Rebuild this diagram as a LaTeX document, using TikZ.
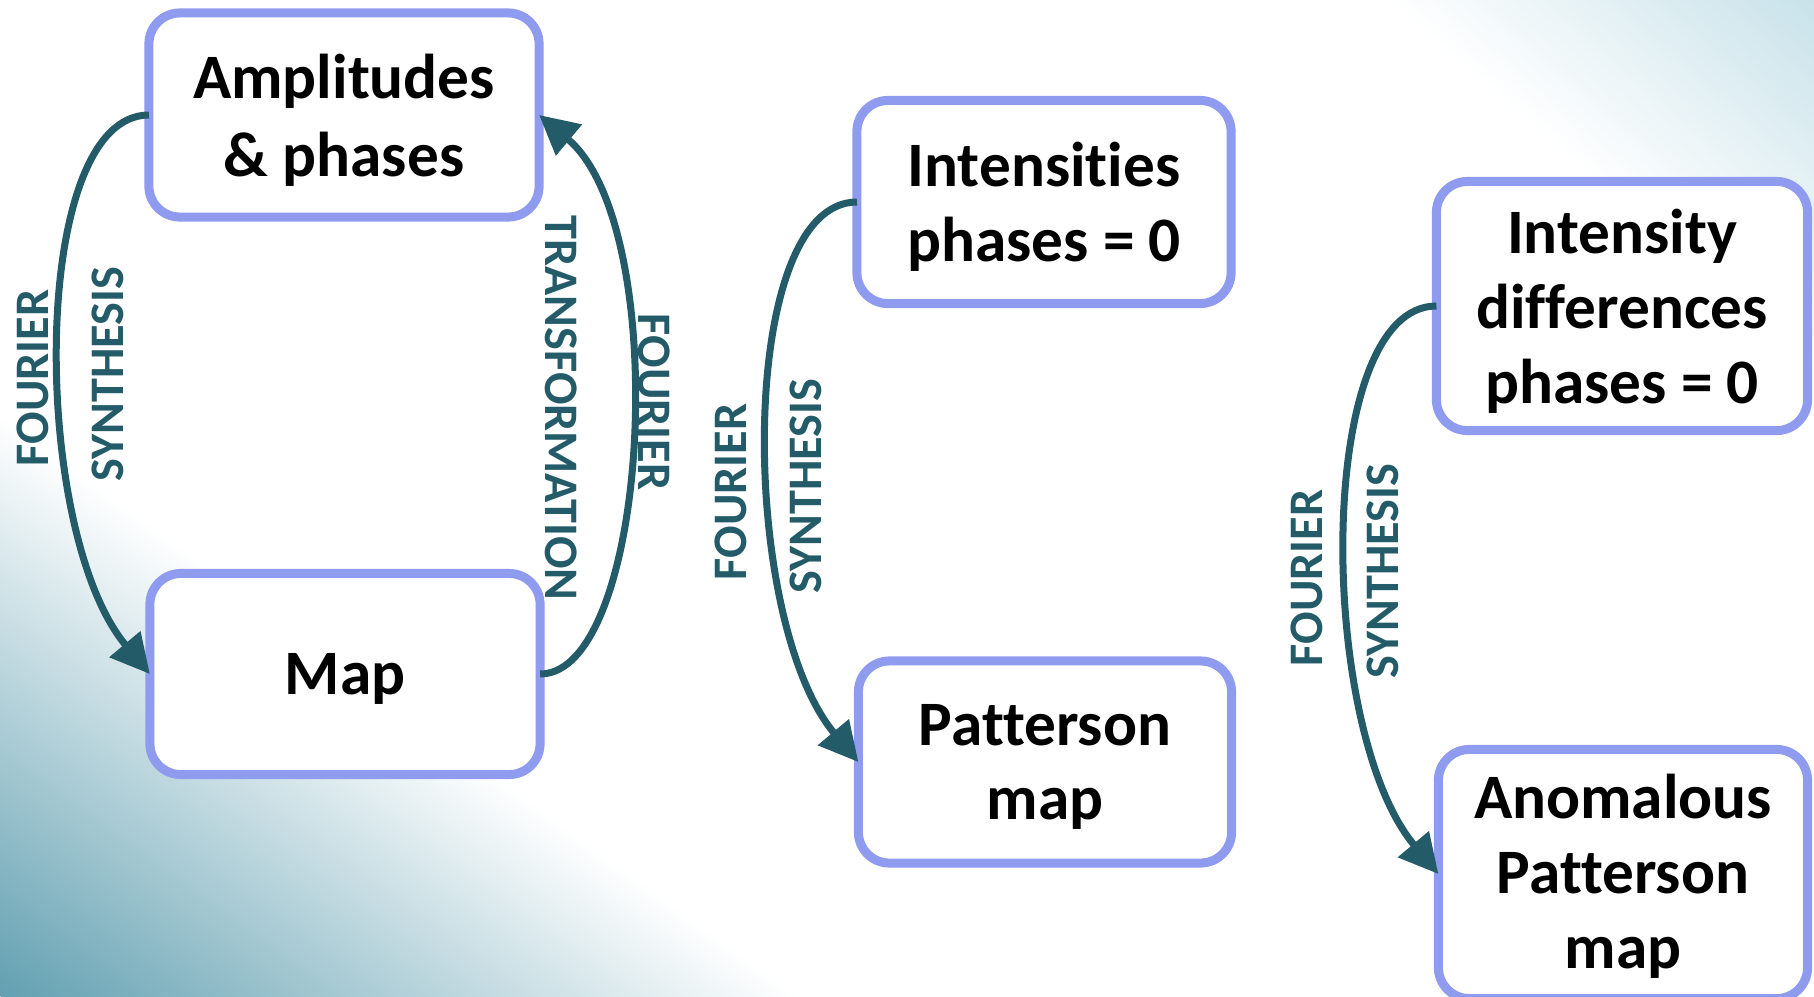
\documentclass[tikz,border=0pt]{standalone}
\usepackage{fontspec}
\setmainfont{Carlito}[Ligatures=NoCommon]
\usepackage{tikz}
\usepackage{xcolor}
\usetikzlibrary{arrows.meta}

\definecolor{boxline}{RGB}{143,155,239}
\definecolor{arrowteal}{RGB}{36,91,105}
\definecolor{bgteal}{RGB}{98,160,177}
\definecolor{bgpale}{RGB}{200,226,234}

\begin{document}
\begin{tikzpicture}[x=0.01cm,y=0.01cm,
  stepbox/.style 2 args={draw=boxline,line width=0.09cm,fill=white,rounded corners=0.31cm,
    outer sep=0pt,align=center,minimum width=#1,minimum height=#2,text depth=-0.02cm,
    font=\fontsize{18}{21.3}\selectfont\bfseries},
  lbl/.style={text=arrowteal,inner sep=0pt,font=\fontsize{13.7}{16}\selectfont\bfseries},
  flow/.style={draw=arrowteal,line width=0.07cm,-{Triangle[length=0.39cm,width=0.39cm]}}]
\useasboundingbox (0,0) rectangle (1814,-996);
\fill[white] (0,0) rectangle (1814,-996);
\begin{scope}[transform canvas={shift={(0,-996)},rotate=-36}]
\shade[bottom color=bgteal,middle color=bgteal!52,top color=white] (-900,0) rectangle (900,470);
\end{scope}
\begin{scope}[transform canvas={shift={(1814,0)},rotate=139}]
\shade[bottom color=bgpale,top color=white] (-700,0) rectangle (700,280);
\end{scope}

\node[stepbox={3.9cm}{2.04cm},font=\fontsize{18}{22.3}\selectfont\bfseries] (amp) at (344,-115) {Amplitudes\\ \& phases};
\node[stepbox={3.9cm}{2.01cm}] (map) at (345,-674) {Map};
\node[stepbox={3.74cm}{2.03cm}] (ints) at (1044,-202) {Intensities\\ phases = 0};
\node[stepbox={3.73cm}{2.02cm}] (patt) at (1045,-762) {Patterson\\ map};
\node[stepbox={3.71cm}{2.49cm}] (diffs) at (1622,-306) {Intensity\\ differences\\ phases = 0};
\node[stepbox={3.69cm}{2.49cm},text depth=0.06cm] (anom) at (1623,-874) {Anomalous\\ Patterson\\ map};

\draw[flow] (amp.west) to[out=180,in=130,out looseness=0.55,in looseness=0.85] (map.west);
\draw[flow] (map.east) to[out=0,in=-40,out looseness=0.5,in looseness=0.8] (amp.east);
\draw[flow] (ints.west) to[out=180,in=130,out looseness=0.55,in looseness=0.85] (patt.west);
\draw[flow] (diffs.west) to[out=180,in=130,out looseness=0.55,in looseness=0.85] (anom.west);

\node[lbl,rotate=90] (four1) at (33,-378) {FOURIER};
\node[lbl,rotate=90] (synt1) at (108,-374) {SYNTHESIS};
\node[lbl,rotate=-90] (trans) at (561,-408) {TRANSFORMATION};
\node[lbl,rotate=-90] (four2) at (654,-402) {FOURIER};
\node[lbl,rotate=90] (four3) at (731,-492) {FOURIER};
\node[lbl,rotate=90] (synt3) at (806,-486) {SYNTHESIS};
\node[lbl,rotate=90] (four4) at (1307,-578) {FOURIER};
\node[lbl,rotate=90] (synt4) at (1383,-571) {SYNTHESIS};
\end{tikzpicture}
\end{document}
